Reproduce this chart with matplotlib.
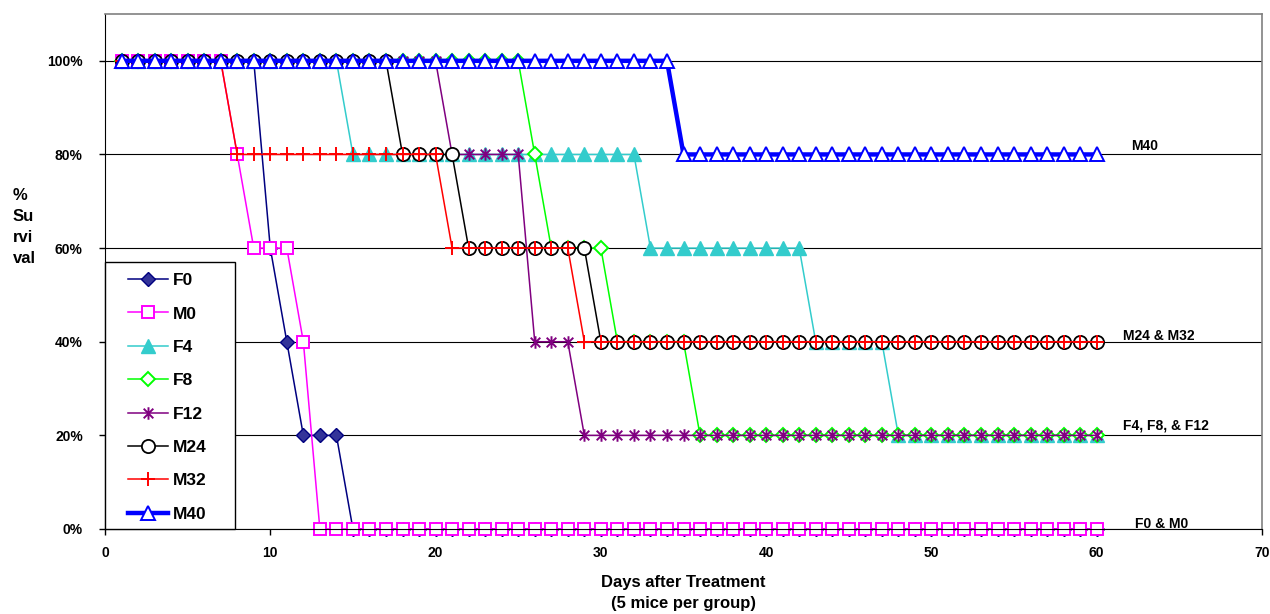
import matplotlib
matplotlib.use('Agg')
import matplotlib.pyplot as plt
from matplotlib.path import Path
from matplotlib.patches import Rectangle

plt.rcParams['font.family'] = ['Liberation Sans', 'DejaVu Sans']
plt.rcParams['font.weight'] = 'bold'

days = list(range(1, 61))

# % survival per group, day 1..60 (10 days per row)
f0 = [100, 100, 100, 100, 100, 100, 100, 100, 100, 60,
      40, 20, 20, 20, 0, 0, 0, 0, 0, 0,
      0, 0, 0, 0, 0, 0, 0, 0, 0, 0,
      0, 0, 0, 0, 0, 0, 0, 0, 0, 0,
      0, 0, 0, 0, 0, 0, 0, 0, 0, 0,
      0, 0, 0, 0, 0, 0, 0, 0, 0, 0]
m0 = [100, 100, 100, 100, 100, 100, 100, 80, 60, 60,
      60, 40, 0, 0, 0, 0, 0, 0, 0, 0,
      0, 0, 0, 0, 0, 0, 0, 0, 0, 0,
      0, 0, 0, 0, 0, 0, 0, 0, 0, 0,
      0, 0, 0, 0, 0, 0, 0, 0, 0, 0,
      0, 0, 0, 0, 0, 0, 0, 0, 0, 0]
f4 = [100, 100, 100, 100, 100, 100, 100, 100, 100, 100,
      100, 100, 100, 100, 80, 80, 80, 80, 80, 80,
      80, 80, 80, 80, 80, 80, 80, 80, 80, 80,
      80, 80, 60, 60, 60, 60, 60, 60, 60, 60,
      60, 60, 40, 40, 40, 40, 40, 20, 20, 20,
      20, 20, 20, 20, 20, 20, 20, 20, 20, 20]
f8 = [100, 100, 100, 100, 100, 100, 100, 100, 100, 100,
      100, 100, 100, 100, 100, 100, 100, 100, 100, 100,
      100, 100, 100, 100, 100, 80, 60, 60, 60, 60,
      40, 40, 40, 40, 40, 20, 20, 20, 20, 20,
      20, 20, 20, 20, 20, 20, 20, 20, 20, 20,
      20, 20, 20, 20, 20, 20, 20, 20, 20, 20]
f12 = [100, 100, 100, 100, 100, 100, 100, 100, 100, 100,
       100, 100, 100, 100, 100, 100, 100, 100, 100, 100,
       80, 80, 80, 80, 80, 40, 40, 40, 20, 20,
       20, 20, 20, 20, 20, 20, 20, 20, 20, 20,
       20, 20, 20, 20, 20, 20, 20, 20, 20, 20,
       20, 20, 20, 20, 20, 20, 20, 20, 20, 20]
m24 = [100, 100, 100, 100, 100, 100, 100, 100, 100, 100,
       100, 100, 100, 100, 100, 100, 100, 80, 80, 80,
       80, 60, 60, 60, 60, 60, 60, 60, 60, 40,
       40, 40, 40, 40, 40, 40, 40, 40, 40, 40,
       40, 40, 40, 40, 40, 40, 40, 40, 40, 40,
       40, 40, 40, 40, 40, 40, 40, 40, 40, 40]
m32 = [100, 100, 100, 100, 100, 100, 100, 80, 80, 80,
       80, 80, 80, 80, 80, 80, 80, 80, 80, 80,
       60, 60, 60, 60, 60, 60, 60, 60, 40, 40,
       40, 40, 40, 40, 40, 40, 40, 40, 40, 40,
       40, 40, 40, 40, 40, 40, 40, 40, 40, 40,
       40, 40, 40, 40, 40, 40, 40, 40, 40, 40]
m40 = [100, 100, 100, 100, 100, 100, 100, 100, 100, 100,
       100, 100, 100, 100, 100, 100, 100, 100, 100, 100,
       100, 100, 100, 100, 100, 100, 100, 100, 100, 100,
       100, 100, 100, 100, 80, 80, 80, 80, 80, 80,
       80, 80, 80, 80, 80, 80, 80, 80, 80, 80,
       80, 80, 80, 80, 80, 80, 80, 80, 80, 80]

yticks = [0, 20, 40, 60, 80, 100]
ytick_labels = ['0%', '20%', '40%', '60%', '80%', '100%']
xticks = [0, 10, 20, 30, 40, 50, 60, 70]

# excel style star: X with a vertical bar
star = Path([(-1, -1), (1, 1), (-1, 1), (1, -1), (0, -1.3), (0, 1.3)],
            [Path.MOVETO, Path.LINETO, Path.MOVETO, Path.LINETO, Path.MOVETO, Path.LINETO])

fig = plt.figure(figsize=(12.7, 6.14), dpi=100)
ax = fig.add_axes([105 / 1270, 85 / 614, 1157 / 1270, 515 / 614])

lw = 1.1
ax.plot(days, f0, color='#000080', lw=lw, marker='D', ms=7.5, mfc='#333399', mec='#000080', label='F0', clip_on=False)
ax.plot(days, m0, color='#FF00FF', lw=lw, marker='s', ms=9, mfc='white', mec='#FF00FF', mew=1.4, label='M0', clip_on=False)
ax.plot(days, f4, color='#33CCCC', lw=lw, marker='^', ms=9.5, mfc='#33CCCC', mec='#33CCCC', label='F4', clip_on=False)
ax.plot(days, f8, color='#00FF00', lw=lw, marker='D', ms=7, mfc='white', mec='#00FF00', mew=1.4, label='F8', clip_on=False)
ax.plot(days, f12, color='#800080', lw=lw, marker=star, ms=9, mec='#800080', mew=1.4, label='F12', clip_on=False)
ax.plot(days, m24, color='black', lw=lw, marker='o', ms=9.5, mfc='white', mec='black', mew=1.3, label='M24', clip_on=False)
ax.plot(days, m32, color='#FF0000', lw=lw, marker='+', ms=10, mec='#FF0000', mew=1.4, label='M32', clip_on=False)
ax.plot(days, m40, color='#0000FF', lw=3.2, marker='^', ms=9.5, mfc='white', mec='#0000FF', mew=1.4, label='M40', clip_on=False)

ax.set_xlim(0, 70)
ax.set_ylim(0, 110)
ax.set_xticks(xticks)
ax.set_yticks(yticks)
ax.set_yticklabels(ytick_labels)
ax.tick_params(axis='both', direction='out', length=4, width=1, labelsize=10)
ax.tick_params(axis='y', pad=12)
ax.tick_params(axis='x', pad=8)
ax.yaxis.grid(True, color='black', lw=0.8)
ax.set_axisbelow(True)
for s in ['top', 'right']:
    ax.spines[s].set_color('#808080')
    ax.spines[s].set_linewidth(1.2)

ax.set_xlabel('Days after Treatment\n(5 mice per group)', fontsize=12, fontweight='bold',
              labelpad=11, linespacing=1.5)
fig.text(13 / 1270, 1 - 227 / 614, '%\nSu\nrvi\nval', fontsize=12, fontweight='bold',
         ha='left', va='center', linespacing=1.52)

ax.text(62.07, 81.0, 'M40', fontsize=10, fontweight='bold', va='baseline')
ax.text(61.6, 40.4, 'M24 & M32', fontsize=10, fontweight='bold', va='baseline')
ax.text(61.6, 21.15, 'F4, F8, & F12', fontsize=10, fontweight='bold', va='baseline')
ax.text(62.3, 0.3, 'F0 & M0', fontsize=10, fontweight='bold', va='baseline')

# legend box drawn separately (excel pads it unevenly)
box = Rectangle((0.0, 0.0), 130 / 1157, 267 / 515, transform=ax.transAxes,
                facecolor='white', edgecolor='black', lw=1, zorder=4, clip_on=False)
ax.add_patch(box)
leg = ax.legend(loc='upper left', bbox_to_anchor=(23 / 1157, 256 / 515), borderaxespad=0,
                borderpad=0, fontsize=12.5, frameon=False, labelspacing=1.05,
                handlelength=2.3, handletextpad=0.3)
leg.set_zorder(5)

plt.savefig('out.png')
